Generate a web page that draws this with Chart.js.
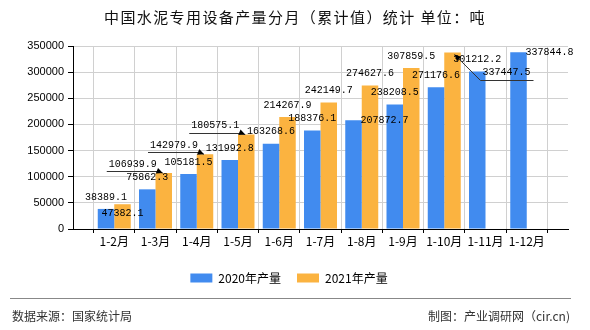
<!DOCTYPE html>
<html>
<head>
<meta charset="utf-8">
<script src="https://cdn.jsdelivr.net/npm/chart.js@4.4.1/dist/chart.umd.min.js"></script>
<style>
  body { margin: 0; background: #fff; }
  #wrap { position: relative; width: 590px; height: 330px; }
  #title {
    position: absolute; left: 0; top: 6px; width: 590px; text-align: center;
    font: 15px "Noto Sans CJK SC"; letter-spacing: 1.4px; color: #111;
  }
  #line { position: absolute; left: 10px; top: 298px; width: 561px; height: 0; border-top: 1px solid #888; }
  .foot { position: absolute; top: 307px; font: 12px "Noto Sans CJK SC"; color: #333; }
</style>
</head>
<body>
<div id="wrap">
  <canvas id="myChart" width="590" height="330"></canvas>
  <div id="title">中国水泥专用设备产量分月（累计值）统计 单位：吨</div>
  <div id="line"></div>
  <div class="foot" style="left:12px">数据来源：国家统计局</div>
  <div class="foot" style="right:20px">制图：产业调研网（cir.cn)</div>
</div>
<script>
// data
const categories = ['1-2月', '1-3月', '1-4月', '1-5月', '1-6月', '1-7月', '1-8月', '1-9月', '1-10月', '1-11月', '1-12月'];
const output2020 = [38389.1, 75862.3, 105181.5, 131992.8, 163268.6, 188376.1, 207872.7, 238208.5, 271176.6, 301212.2, 337844.8];
const output2021 = [47382.1, 106939.9, 142979.9, 180575.1, 214267.9, 242149.7, 274627.6, 307859.5, 337447.5, null, null];
const yTicks = [0, 50000, 100000, 150000, 200000, 250000, 300000, 350000];

// where each value label sits relative to its bar top
const place2020 = ['above', 'above', 'above', 'above', 'above', 'above', 'right', 'above', 'above', 'above', 'right'];
const place2021 = ['below', 'left', 'left', 'left', 'above', 'above', 'above', 'above', 'upRight', null, null];

// empty slot on both ends, like the original axis
const labels = [''].concat(categories, ['']);
const pad = arr => [null].concat(arr, [null]);

function arrowHead(ctx, fx, fy, tx, ty) {
  const a = Math.atan2(ty - fy, tx - fx);
  ctx.beginPath();
  ctx.moveTo(tx, ty);
  ctx.lineTo(tx - 7 * Math.cos(a - 0.45), ty - 7 * Math.sin(a - 0.45));
  ctx.lineTo(tx - 7 * Math.cos(a + 0.45), ty - 7 * Math.sin(a + 0.45));
  ctx.closePath();
  ctx.fill();
}

const valueLabels = {
  id: 'valueLabels',
  afterDatasetsDraw(chart) {
    const ctx = chart.ctx;
    const places = [place2020, place2021];
    ctx.save();
    ctx.font = '10px "Liberation Mono"';
    ctx.textAlign = 'center';
    ctx.textBaseline = 'middle';
    ctx.strokeStyle = '#333';
    ctx.lineWidth = 1;
    chart.data.datasets.forEach((ds, di) => {
      const meta = chart.getDatasetMeta(di);
      meta.data.forEach((bar, i) => {
        const v = ds.data[i];
        if (v == null) return;
        const p = places[di][i - 1];
        const x = bar.x, y = bar.y;
        const txt = v.toFixed(1);
        ctx.fillStyle = '#000';
        if (p === 'above') {
          ctx.fillText(txt, x, y - 12);
        } else if (p === 'below') {
          ctx.fillText(txt, x, y + 9);
        } else if (p === 'right') {
          ctx.fillText(txt, x + 31, y);
        } else if (p === 'left') {
          ctx.fillText(txt, x - 31, y - 9);
          ctx.beginPath();
          ctx.moveTo(x - 57, Math.round(y - 2) + 0.5);
          ctx.lineTo(x - 6, Math.round(y - 2) + 0.5);
          ctx.lineTo(x - 1, y);
          ctx.stroke();
          arrowHead(ctx, x - 6, y - 2, x - 1, y);
        } else if (p === 'upRight') {
          ctx.fillText(txt, x + 54, y + 20);
          ctx.beginPath();
          ctx.moveTo(x + 81, Math.round(y + 27) + 0.5);
          ctx.lineTo(x + 28, Math.round(y + 27) + 0.5);
          ctx.lineTo(x + 2, y + 2);
          ctx.stroke();
          arrowHead(ctx, x + 28, y + 27, x + 2, y + 2);
        }
      });
    });
    ctx.restore();
  }
};

const ctx = document.getElementById('myChart').getContext('2d');
const chart = new Chart(ctx, {
  type: 'bar',
  data: {
    labels: labels,
    datasets: [
      { label: '2020年产量', data: pad(output2020), backgroundColor: '#418BEF' },
      { label: '2021年产量', data: pad(output2021), backgroundColor: '#FBB340' }
    ]
  },
  options: {
    responsive: false,
    animation: false,
    devicePixelRatio: 1,
    categoryPercentage: 0.8,
    barPercentage: 1,
    layout: { padding: { top: 46, left: 10, right: 22, bottom: 36 } },
    plugins: {
      title: { display: false },
      tooltip: { enabled: false },
      legend: {
        position: 'bottom',
        labels: {
          boxWidth: 22, boxHeight: 9, padding: 16, color: '#000',
          font: { size: 12, family: '"Noto Sans CJK SC"' }
        }
      }
    },
    scales: {
      x: {
        offset: false,
        afterFit: s => { s.height = 27; },
        grid: { color: '#d0d0d0', tickColor: '#000', tickLength: 4 },
        border: { color: '#000' },
        ticks: {
          autoSkip: false, maxRotation: 0, padding: 1, color: '#000',
          font: { size: 12, family: '"Noto Sans CJK SC"' }
        }
      },
      y: {
        min: 0,
        max: yTicks[yTicks.length - 1],
        afterFit: s => { s.width = 63; },
        afterBuildTicks: s => { s.ticks = yTicks.map(v => ({ value: v })); },
        grid: { color: '#d0d0d0', tickColor: '#000', tickLength: 5 },
        border: { color: '#000' },
        ticks: {
          padding: 4, color: '#000',
          font: { size: 11, family: '"Liberation Sans"' },
          callback: v => String(v)
        }
      }
    }
  },
  plugins: [valueLabels]
});
</script>
</body>
</html>
